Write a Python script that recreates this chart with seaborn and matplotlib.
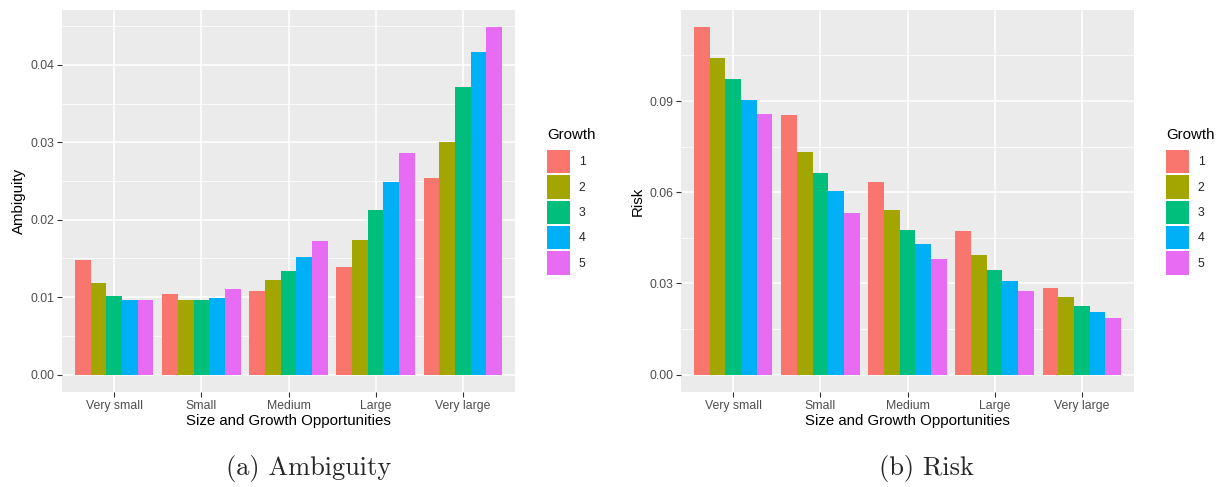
import matplotlib
matplotlib.use("Agg")
import matplotlib.pyplot as plt
import seaborn as sns
import pandas as pd
import numpy as np
from matplotlib.patches import Patch
from matplotlib.ticker import FixedLocator, FuncFormatter

categories = ["Very small", "Small", "Medium", "Large", "Very large"]
growth = ["1", "2", "3", "4", "5"]
ambiguity = [
    [0.01483, 0.01185, 0.01017, 0.00966, 0.00966],
    [0.01043, 0.00966, 0.00966, 0.00991, 0.01108],
    [0.01082, 0.01224, 0.01340, 0.01522, 0.01728],
    [0.01392, 0.01741, 0.02129, 0.02491, 0.02866],
    [0.02543, 0.03009, 0.03707, 0.04159, 0.04483],
]
risk = [
    [0.11442, 0.10419, 0.09726, 0.09033, 0.08571],
    [0.08538, 0.07316, 0.06623, 0.06029, 0.05303],
    [0.06326, 0.05402, 0.04742, 0.04313, 0.03818],
    [0.04709, 0.03950, 0.03455, 0.03092, 0.02762],
    [0.02860, 0.02564, 0.02266, 0.02068, 0.01870],
]
amb_ticks = [0.00, 0.01, 0.02, 0.03, 0.04]
amb_minor = [0.005, 0.015, 0.025, 0.035, 0.045]
risk_ticks = [0.00, 0.03, 0.06, 0.09]
risk_minor = [0.015, 0.045, 0.075, 0.105]
colors = ["#F8766D", "#A3A500", "#00BF7D", "#00B0F6", "#E76BF3"]

def to_df(vals, name):
    rows = []
    for c, row in zip(categories, vals):
        for g, v in zip(growth, row):
            rows.append({"cat": c, "Growth": g, name: v})
    return pd.DataFrame(rows)

sns.set_theme(style="white")
plt.rcParams["font.family"] = ["Liberation Sans", "DejaVu Sans"]

fig = plt.figure(figsize=(12.22, 4.87), dpi=100)
W, H = 1222, 487

def make_panel(left_px, vals, name, major, minor, ylabel, legend_x, caption, cap_x):
    ax = fig.add_axes([left_px / W, 1 - 392 / H, 453 / W, 382 / H])
    df = to_df(vals, name)
    sns.barplot(data=df, x="cat", y=name, hue="Growth", order=categories,
                hue_order=growth, palette=colors, saturation=1, width=0.9, gap=0,
                linewidth=0, edgecolor="none", ax=ax, legend=False, errorbar=None,
                zorder=3)
    ax.set_facecolor("#EBEBEB")
    mx = max(max(r) for r in vals)
    ax.set_ylim(-0.05 * mx, min(1.05 * mx, 0.11995 if mx > 0.1 else 1.05 * mx))
    ax.set_xlim(-0.6, 4.6)
    ax.yaxis.set_major_locator(FixedLocator(major))
    ax.yaxis.set_minor_locator(FixedLocator(minor))
    ax.grid(True, which="major", color="white", linewidth=1.1, zorder=0)
    ax.grid(True, which="minor", axis="y", color="white", linewidth=0.55, zorder=0)
    ax.set_axisbelow(True)
    for s in ax.spines.values():
        s.set_visible(False)
    ax.tick_params(axis="both", which="major", length=3.5, width=0.8, color="#333333",
                   labelcolor="#4D4D4D", labelsize=8.8, pad=2, left=True, bottom=True)
    ax.tick_params(axis="y", which="minor", length=0)
    ax.yaxis.set_major_formatter(FuncFormatter(lambda v, p: f"{v:.2f}"))
    ax.set_xlabel("Size and Growth Opportunities", fontsize=10.8, color="black", labelpad=2)
    ax.set_ylabel(ylabel, fontsize=10.8, color="black", labelpad=3)
    handles = [Patch(facecolor=c, edgecolor="none", label=g) for c, g in zip(colors, growth)]
    fig.text(legend_x / W, 1 - 128 / H, "Growth", ha="left", va="top",
             fontsize=10.8, color="black")
    fig.legend(handles=handles, loc="upper left",
               bbox_to_anchor=(legend_x / W, 1 - 150 / H), frameon=False,
               fontsize=8.8, handlelength=1.9,
               handleheight=2.55, handletextpad=0.7, labelspacing=0.17,
               borderaxespad=0, borderpad=0)
    fig.text(cap_x / W, 1 - 468 / H, caption, ha="center", va="center",
             fontsize=19, family=["cmr10", "DejaVu Serif"])
    return ax

make_panel(62, ambiguity, "Ambiguity", amb_ticks, amb_minor, "Ambiguity", 547, "(a) Ambiguity", 308.5)
make_panel(681, risk, "Risk", risk_ticks, risk_minor, "Risk", 1166, "(b) Risk", 926.5)

fig.savefig("out.png", dpi=100)
